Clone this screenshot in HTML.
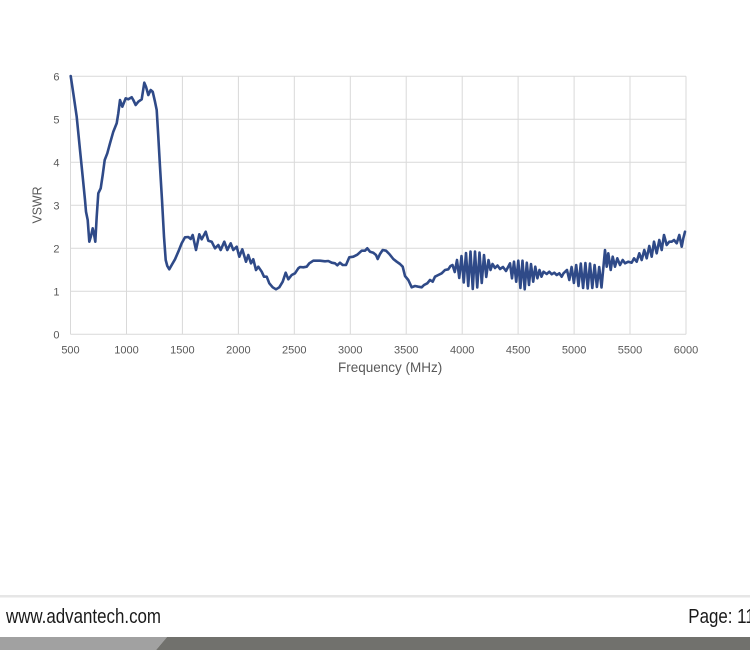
<!DOCTYPE html>
<html>
<head>
<meta charset="utf-8">
<style>
html,body{margin:0;padding:0;background:#fff;}
svg{display:block;}
text{font-family:"Liberation Sans",Arial,sans-serif;}
</style>
</head>
<body>
<svg width="750" height="650" viewBox="0 0 750 650" xmlns="http://www.w3.org/2000/svg">
<rect x="0" y="0" width="750" height="650" fill="#fff"/>
<g stroke="#d9d9d9" stroke-width="1" fill="none">
<line x1="70.5" y1="76.3" x2="686" y2="76.3"/>
<line x1="70.5" y1="119.3" x2="686" y2="119.3"/>
<line x1="70.5" y1="162.3" x2="686" y2="162.3"/>
<line x1="70.5" y1="205.3" x2="686" y2="205.3"/>
<line x1="70.5" y1="248.3" x2="686" y2="248.3"/>
<line x1="70.5" y1="291.3" x2="686" y2="291.3"/>
<line x1="70.5" y1="334.3" x2="686" y2="334.3"/>
<line x1="70.5" y1="76.3" x2="70.5" y2="334.3"/>
<line x1="126.5" y1="76.3" x2="126.5" y2="334.3"/>
<line x1="182.4" y1="76.3" x2="182.4" y2="334.3"/>
<line x1="238.4" y1="76.3" x2="238.4" y2="334.3"/>
<line x1="294.3" y1="76.3" x2="294.3" y2="334.3"/>
<line x1="350.3" y1="76.3" x2="350.3" y2="334.3"/>
<line x1="406.2" y1="76.3" x2="406.2" y2="334.3"/>
<line x1="462.2" y1="76.3" x2="462.2" y2="334.3"/>
<line x1="518.1" y1="76.3" x2="518.1" y2="334.3"/>
<line x1="574.1" y1="76.3" x2="574.1" y2="334.3"/>
<line x1="630" y1="76.3" x2="630" y2="334.3"/>
<line x1="686" y1="76.3" x2="686" y2="334.3"/>
</g>
<g fill="#595959" font-size="11" text-anchor="end">
<text x="59.5" y="80.3">6</text>
<text x="59.5" y="123.3">5</text>
<text x="59.5" y="166.3">4</text>
<text x="59.5" y="209.3">3</text>
<text x="59.5" y="252.3">2</text>
<text x="59.5" y="295.3">1</text>
<text x="59.5" y="338.3">0</text>
</g>
<g fill="#595959" font-size="11" text-anchor="middle">
<text x="70.5" y="353.5">500</text>
<text x="126.5" y="353.5">1000</text>
<text x="182.4" y="353.5">1500</text>
<text x="238.4" y="353.5">2000</text>
<text x="294.3" y="353.5">2500</text>
<text x="350.3" y="353.5">3000</text>
<text x="406.2" y="353.5">3500</text>
<text x="462.2" y="353.5">4000</text>
<text x="518.1" y="353.5">4500</text>
<text x="574.1" y="353.5">5000</text>
<text x="630" y="353.5">5500</text>
<text x="686" y="353.5">6000</text>
</g>
<text x="338" y="372" fill="#595959" font-size="13.5">Frequency (MHz)</text>
<text transform="translate(41.5,205) rotate(-90)" fill="#595959" font-size="13" text-anchor="middle" textLength="37" lengthAdjust="spacingAndGlyphs">VSWR</text>
<polyline fill="none" stroke="#2f4a88" stroke-width="2.6" stroke-linejoin="round" stroke-linecap="round" points="
70.7,76 73.3,93.3 76.7,116.7 80,150 82.7,176.7 85,200 86,211.7 87.7,220 89.3,241.7 91,236 92.7,228.3 94,234 95.3,241.7 96.7,216.7 98.3,193.3 100.7,188.3 102.7,175 104.7,160 107.3,153.3 110,143.3 113.3,131.7 116.7,123.3 118.3,113.3 120,100 122.3,106.7 125.7,98.3 128.3,99.3 131.7,97.3 133.3,100 135.7,105 138.3,101.7 141.7,99.3 144.3,82.7 146,86.7 148.3,95 150.7,90 152.7,91.7 155,101.7 156.7,110 158.3,136.7 160,166.7 162,200 164,236.7 165.7,260 167.3,266 169.3,269.3 171.7,265 175,259.3 178.3,251.7 181.7,243.3 185,237.3 188.3,237 190.7,239 192.7,235 196,250 199.3,234.3 201.7,239.3 205.7,231.7 208.3,240.7 211.7,241.7 215,248.3 218.3,245 220.7,250 224.3,241.7 227.3,250 230.7,243.3 233.3,250 236.7,246.7 239.3,256.7 242.3,249.3 246,261.7 248.3,255 251,263.3 253.3,259.3 256,270 258.3,266.7 261.7,271.7 264,276.7 266.7,276.7 269.3,283.3 272.7,287.3 276,289.3 279.3,287.3 282.7,281.7 285.7,272.7 288.3,279.3 291.7,275 295,273.3 298.3,268.3 300,267 303.3,267.3 306.7,266.7 309.3,263.3 313.3,260.7 320,260.7 325,261.3 328.3,261 331.7,262.7 335,263.3 337.3,265.3 340,262.7 342.7,265 346,265 349.3,257.3 353.3,256.7 357.3,254.7 361.7,250.7 365,250.7 367.3,248.3 370,251.7 373.3,252.7 376,255 377.7,259 380,254 382.7,250 386,250.7 389.3,254 393.3,259 396.7,261.7 400,264 402.7,266.7 405,276 408.3,280 411.7,287.3 415,286 418.3,286.7 421.7,287.3 424,285 427.3,283.3 430,280 432.7,281.7 435,276.7 438.3,275 441.7,273.3 445,270 448.3,269.3 450.5,266
452.5,265 454.75,272 457,260 459.25,278 461.5,256 463.75,282.5 466,253 468.25,286 470.5,251.5 472.75,289 475,251.5 477.25,287.5 479.5,252.5 481.75,283 484,255 486.25,277 488.5,260 490.5,270 492.5,264 495,268 497.5,265.5 500,269 503,267 506,271
510,263.3 512,278.3 514,261.7 516.2,281.7 518.3,260.7 520.4,288 522.5,260.7 524.7,289.3 526.8,262.7 529,285 531,264 533.2,281.7 535.3,266.7 537.4,278.3 539.5,270 541.5,276.7 543.5,271.7 546.7,274 549.3,271.7 551.7,274.3 554.3,272.7 556.7,275 559.3,273.3 561.7,276.7 563.5,273.3
567,270 569.3,280 571.6,267 573.9,283 576.2,265 578.5,286 580.8,263.5 583.1,288 585.4,263 587.7,288.5 590,263.5 592.3,288 594.6,265 596.9,287 599.2,267 601.5,287.5 605,250
606.7,266.7 608.3,253.3 610.7,270 612.7,256.7 615,266.7 617.3,258.3 620,265 622.7,260 625,263.3 628.3,261.7 631.7,262.7 634,258.3 636.7,261.7 639.3,253.3 641.7,260 644.3,250 646.7,258.3 649.3,246 651.7,256.7 654,241.7 656.7,253.3 659.3,240 661.7,250 664,235 666.7,245 669.3,241.7 671.7,241.7 674,240 676.7,243.3 679.3,235 681.7,246.7 683.3,238.3 685,231.7"/>
<rect x="0" y="595" width="750" height="2.5" fill="#e6e6e6"/>
<text transform="translate(6,623) scale(0.825,1)" font-size="20.5" fill="#1a1a1a">www.advantech.com</text>
<text transform="translate(688.3,623) scale(0.825,1)" font-size="20.5" fill="#1a1a1a">Page: 11</text>
<polygon points="0,637 167,637 156,650 0,650" fill="#a1a1a1"/>
<polygon points="167,637 750,637 750,650 156,650" fill="#71716d"/>
</svg>
</body>
</html>
